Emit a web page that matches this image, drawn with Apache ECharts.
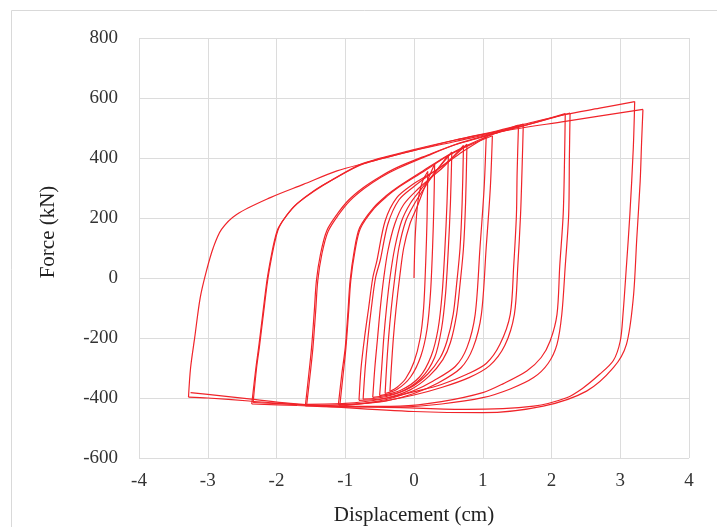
<!DOCTYPE html>
<html>
<head>
<meta charset="utf-8">
<script src="https://cdn.jsdelivr.net/npm/echarts@6/dist/echarts.min.js"></script>
<style>
  html, body { margin: 0; padding: 0; background: #fff; }
  #chart { width: 717px; height: 527px; }
</style>
</head>
<body>
<div id="chart"></div>
<script>
// axis ticks
var xTicks = [-4, -3, -2, -1, 0, 1, 2, 3, 4];
var yTicks = [-600, -400, -200, 0, 200, 400, 600, 800];

// hysteresis branches, [displacement cm, force kN], in loading order
var start = [[0,0],[0.02,150],[0.06,260],[0.12,320],[0.2,355]];
var down1 = [[0.2,355],[0.19,200],[0.17,50],[0.14,-100],[0.09,-200],[0,-280],[-0.12,-335],[-0.25,-365],[-0.35,-378]];
var up1 = [[-0.35,-378],[-0.33,-300],[-0.3,-200],[-0.26,-100],[-0.21,0],[-0.15,100],[-0.06,180],[0.05,240],[0.15,300],[0.3,380]];
var down2 = [[0.3,380],[0.29,250],[0.27,100],[0.24,-50],[0.19,-170],[0.1,-260],[-0.05,-330],[-0.25,-372],[-0.42,-385]];
var up2 = [[-0.42,-385],[-0.4,-300],[-0.37,-200],[-0.33,-100],[-0.28,0],[-0.22,100],[-0.12,190],[0,245],[0.15,300],[0.3,350],[0.5,410]];
var down3 = [[0.5,410],[0.48,250],[0.45,100],[0.41,-50],[0.35,-170],[0.25,-260],[0.08,-330],[-0.2,-375],[-0.5,-392]];
var up3 = [[-0.5,-392],[-0.47,-300],[-0.44,-200],[-0.4,-100],[-0.35,0],[-0.28,100],[-0.18,190],[-0.05,250],[0.1,295],[0.3,350],[0.55,420]];
var down4 = [[0.55,420],[0.53,250],[0.5,100],[0.46,-50],[0.4,-170],[0.3,-265],[0.1,-335],[-0.2,-380],[-0.6,-398]];
var up4 = [[-0.6,-398],[-0.57,-300],[-0.53,-200],[-0.49,-100],[-0.44,0],[-0.38,90],[-0.28,180],[-0.15,245],[0.05,295],[0.25,335],[0.45,375],[0.72,442]];
var down5 = [[0.72,442],[0.7,250],[0.67,101],[0.62,-20],[0.57,-121],[0.48,-210],[0.38,-266],[0.2,-320],[-0.05,-365],[-0.4,-395],[-0.74,-404]];
var up5 = [[-0.74,-404],[-0.71,-300],[-0.67,-200],[-0.62,-100],[-0.56,0],[-0.49,60],[-0.38,180],[-0.22,260],[0,305],[0.2,340],[0.45,380],[0.77,446]];
var down6 = [[0.77,446],[0.75,250],[0.72,101],[0.67,-20],[0.62,-121],[0.53,-215],[0.42,-272],[0.22,-327],[-0.05,-372],[-0.4,-400],[-0.8,-408]];
var up6 = [[-0.8,-408],[-0.77,-300],[-0.72,-200],[-0.66,-100],[-0.6,0],[-0.54,57],[-0.42,190],[-0.25,268],[0,315],[0.14,334],[0.38,368],[0.7,420],[1.05,470]];
var down7 = [[1.05,470],[1.02,300],[0.96,101],[0.89,-121],[0.77,-232],[0.6,-295],[0.28,-343],[0,-375],[-0.4,-405],[-0.8,-420],[-1.08,-427]];
var up7 = [[-1.08,-427],[-1.03,-320],[-0.99,-232],[-0.95,-110],[-0.92,-10],[-0.86,88],[-0.78,165],[-0.58,232],[-0.39,273],[-0.24,300],[0.14,355],[0.5,408],[0.8,442],[1.14,474]];
var down8 = [[1.14,474],[1.11,300],[1.05,101],[0.98,-121],[0.86,-232],[0.68,-300],[0.35,-350],[0,-385],[-0.4,-410],[-0.8,-420],[-1.1,-422]];
var up8 = [[-1.1,-422],[-1.05,-320],[-1,-232],[-0.96,-110],[-0.93,-10],[-0.87,90],[-0.79,168],[-0.59,234],[-0.4,275],[-0.25,301],[0.13,357],[0.5,410],[0.8,445],[1.1,475],[1.52,510]];
var down9 = [[1.52,510],[1.5,350],[1.49,212],[1.45,40],[1.4,-121],[1.25,-221],[1.05,-285],[0.77,-321],[0.4,-355],[0.04,-377],[-0.5,-405],[-1,-418],[-1.56,-421]];
var up9 = [[-1.56,-421],[-1.51,-320],[-1.47,-232],[-1.43,-110],[-1.4,-10],[-1.34,80],[-1.25,155],[-1.1,210],[-0.93,258],[-0.72,299],[-0.48,336],[-0.23,366],[0.2,408],[0.6,444],[1,470],[1.3,490],[1.59,513]];
var down10 = [[1.59,513],[1.57,350],[1.55,212],[1.51,40],[1.46,-121],[1.32,-225],[1.1,-292],[0.8,-332],[0.4,-365],[0,-390],[-0.5,-412],[-1,-422],[-1.58,-426]];
var up10 = [[-1.58,-426],[-1.53,-320],[-1.49,-232],[-1.45,-110],[-1.42,-10],[-1.36,80],[-1.27,157],[-1.12,212],[-0.95,260],[-0.74,301],[-0.5,337],[-0.25,368],[0.2,410],[0.6,445],[1,472],[1.6,508],[2.2,548]];
var down11 = [[2.2,548],[2.19,400],[2.17,212],[2.12,40],[2.08,-121],[1.98,-210],[1.85,-265],[1.64,-310],[1.3,-352],[1,-382],[0.4,-412],[-0.2,-427],[-1,-428],[-1.7,-422],[-2.34,-415]];
var up11 = [[-2.34,-415],[-2.29,-300],[-2.25,-232],[-2.19,-120],[-2.13,-10],[-2.07,70],[-2.01,134],[-1.96,170],[-1.84,212],[-1.7,248],[-1.45,292],[-1.2,326],[-0.74,382],[0,428],[0.6,460],[1.2,488],[1.6,508],[2.27,550]];
var down12 = [[2.27,550],[2.26,400],[2.25,212],[2.2,40],[2.15,-121],[2.08,-221],[1.95,-285],[1.74,-332],[1.4,-370],[1,-399],[0.4,-420],[-0.2,-430],[-1,-430],[-1.7,-425],[-2.36,-420]];
var up12 = [[-2.36,-420],[-2.3,-300],[-2.26,-232],[-2.2,-120],[-2.14,-10],[-2.08,70],[-2.02,134],[-1.97,168],[-1.85,210],[-1.71,246],[-1.45,290],[-1.22,323],[-0.74,380],[0,425],[0.6,460],[1.2,490],[1.59,512],[2.2,545],[2.7,566],[3.21,588]];
var down13 = [[3.21,588],[3.19,434],[3.14,212],[3.09,40],[3.04,-121],[3,-210],[2.9,-275],[2.7,-321],[2.45,-368],[2.22,-399],[1.74,-427],[0.77,-438],[-0.2,-432],[-1,-428],[-1.8,-420],[-2.4,-410],[-3,-400],[-3.28,-397]];
var up13 = [[-3.28,-397],[-3.25,-300],[-3.19,-199],[-3.11,-66],[-3.02,23],[-2.92,101],[-2.8,162],[-2.58,212],[-2.09,268],[-1.61,312],[-1.12,357],[-0.69,384],[0,425],[0.6,455],[1.3,490],[2.2,522],[3.33,562]];
var down14 = [[3.33,562],[3.31,450],[3.29,323],[3.24,130],[3.19,-66],[3.09,-221],[2.9,-299],[2.51,-377],[1.88,-427],[1,-449],[0,-445],[-1,-432],[-1.8,-418],[-2.4,-403],[-3,-388],[-3.25,-382]];

var branches = [start, down1, up1, down2, up2, down3, up3, down4, up4, down5, up5,
  down6, up6, down7, up7, down8, up8, down9, up9, down10, up10,
  down11, up11, down12, up12, down13, up13, down14];

var myChart = echarts.init(document.getElementById('chart'));

var series = branches.map(function (b) {
  return {
    type: 'line',
    data: b,
    showSymbol: false,
    smooth: 0.3,
    lineStyle: { color: '#f0242a', width: 1.2 },
    silent: true
  };
});

var option = {
  animation: false,
  grid: { left: 139, right: 28, top: 38, bottom: 69 },
  xAxis: {
    type: 'value',
    min: xTicks[0],
    max: xTicks[xTicks.length - 1],
    interval: 1,
    axisLine: { show: false },
    axisTick: { show: false },
    splitLine: { show: true, lineStyle: { color: '#dcdcdc', width: 1 } },
    axisLabel: {
      margin: 14,
      color: '#333',
      fontFamily: 'Liberation Serif',
      fontSize: 19
    }
  },
  yAxis: {
    type: 'value',
    min: yTicks[0],
    max: yTicks[yTicks.length - 1],
    interval: 200,
    axisLine: { show: false },
    axisTick: { show: false },
    splitLine: { show: true, lineStyle: { color: '#dcdcdc', width: 1 } },
    axisLabel: {
      margin: 21,
      color: '#333',
      fontFamily: 'Liberation Serif',
      fontSize: 19
    }
  },
  graphic: [
    {
      type: 'rect',
      shape: { x: 11.5, y: 10.5, width: 720, height: 530 },
      style: { fill: null, stroke: '#d9d9d9', lineWidth: 1 },
      silent: true
    },
    {
      type: 'text',
      x: 48, y: 232,
      rotation: Math.PI / 2,
      style: {
        text: 'Force (kN)',
        fill: '#222',
        font: '21px "Liberation Serif"',
        align: 'center',
        verticalAlign: 'middle'
      }
    },
    {
      type: 'text',
      x: 414, y: 515,
      style: {
        text: 'Displacement (cm)',
        fill: '#222',
        font: '21px "Liberation Serif"',
        align: 'center',
        verticalAlign: 'middle'
      }
    }
  ],
  series: series
};

myChart.setOption(option, true);
</script>
</body>
</html>
